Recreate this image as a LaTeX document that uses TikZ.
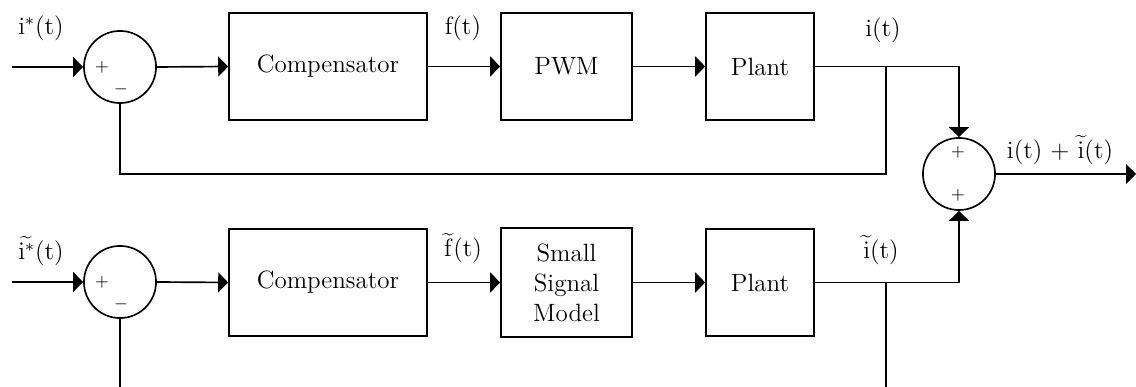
\documentclass[tikz,border=0pt]{standalone}
\usetikzlibrary{arrows.meta}
\begin{document}
\begin{tikzpicture}[x=0.48pt,y=-0.48pt,
  font=\fontsize{12}{14.4}\selectfont,
  every path/.style={line width=0.8pt},
  block/.style={draw,line width=0.8pt,minimum height=51.4pt,inner sep=0pt,align=center},
  sumnode/.style={draw,circle,line width=0.8pt,minimum size=34.6pt,inner sep=0pt},
  sign/.style={font=\footnotesize,inner sep=0pt},
  sig/.style={-{Triangle[length=4.8pt,width=9.6pt]}},
  lbl/.style={inner sep=0pt}]
\useasboundingbox (0,0) rectangle (1136,387);

% upper loop: large-signal path
\node[sumnode] (s1) at (120,67) {};
\node[sign] (s1p) at (102,67) {+};
\node[sign] (s1m) at (121,89) {$-$};
\node[block,minimum width=95pt] (comp1) at (328,66.5) {Compensator};
\node[block,minimum width=62.9pt] (pwm) at (566.5,66.5) {PWM};
\node[block,minimum width=51.8pt] (plant1) at (760,66.5) {Plant};

% lower loop: small-signal path
\node[sumnode] (s3) at (120,282) {};
\node[sign] (s3p) at (102,282) {+};
\node[sign] (s3m) at (121,304) {$-$};
\node[block,minimum width=95pt] (comp2) at (328,282.5) {Compensator};
\node[block,minimum width=62.9pt,minimum height=52.3pt] (ssm) at (566.5,282.5) {Small\\Signal\\Model};
\node[block,minimum width=51.8pt] (plant2) at (760,282.5) {Plant};

% output summing junction
\node[sumnode] (s2) at (959,174) {};
\node[sign] (s2a) at (958,152) {+};
\node[sign] (s2b) at (958,195) {+};

% signal labels
\node[lbl] (lin1) at (41,28) {i$^*$(t)};
\node[lbl] (lf1) at (463,28) {f(t)};
\node[lbl] (li1) at (883,30) {i(t)};
\node[lbl] (lin2) at (41,251) {$\widetilde{\mathrm{i}^*}$(t)};
\node[lbl] (lf2) at (463,248) {$\widetilde{\mathrm{f}}$(t)};
\node[lbl] (li2) at (881,250) {$\widetilde{\mathrm{i}}$(t)};
\node[lbl] (lout) at (1060,150) {i(t) + $\widetilde{\mathrm{i}}$(t)};

% helper points
\coordinate (in1) at (12,67);
\coordinate (in2) at (12,282);
\coordinate (out) at (1136,174);
\coordinate (tap1) at (886,67);
\coordinate (fb1) at (886,174);
\coordinate (tap2) at (886,282);
\coordinate (fb2) at (886,387);
\coordinate (fb3) at (120,387);

% upper connectors
\draw[sig] (in1) -- (s1.west);
\draw[sig] (s1.east) -- (comp1.west);
\draw[sig] (comp1.east) -- (pwm.west);
\draw[sig] (pwm.east) -- (plant1.west);
\draw[sig] (plant1.east) -| (s2.north);
\draw (tap1) -- (fb1) -| (s1.south);

% lower connectors
\draw[sig] (in2) -- (s3.west);
\draw[sig] (s3.east) -- (comp2.west);
\draw[sig] (comp2.east) -- (ssm.west);
\draw[sig] (ssm.east) -- (plant2.west);
\draw[sig] (plant2.east) -| (s2.south);
\draw (tap2) -- (fb2);
\draw (s3.south) -- (fb3);

% output
\draw[sig] (s2.east) -- (out);
\end{tikzpicture}
\end{document}
